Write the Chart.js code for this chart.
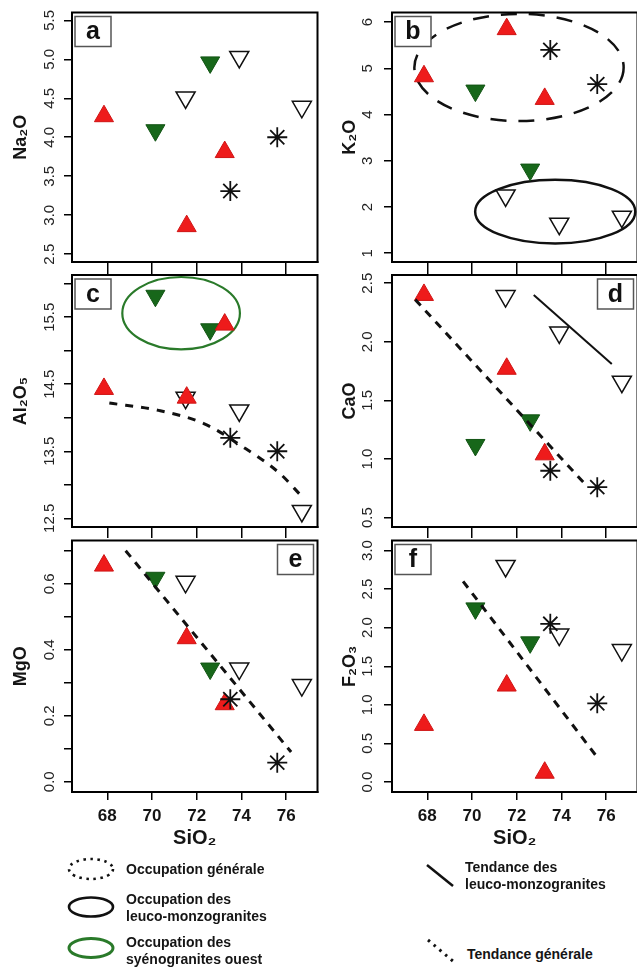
<!DOCTYPE html>
<html>
<head>
<meta charset="utf-8">
<title>Diagrammes de Harker</title>
<script src="https://cdn.jsdelivr.net/npm/chart.js@4"></script>
<style>
    html, body { margin: 0; padding: 0; background: #fff; overflow: hidden; }
    #page { position: relative; width: 637px; height: 969px; overflow: hidden; font-family: "Liberation Sans", Arial, sans-serif; }
    #page canvas { position: absolute; }
    .lg { position: absolute; font-weight: bold; font-size: 14px; line-height: 17px; color: #151515; white-space: nowrap; }
    .ic { position: absolute; }
</style>
</head>
<body>
<div id="page">
    <canvas id="pa" width="330" height="276" style="left:0;top:0"></canvas>
    <canvas id="pb" width="330" height="276" style="left:320px;top:0"></canvas>
    <canvas id="pc" width="330" height="278" style="left:0;top:262px"></canvas>
    <canvas id="pd" width="330" height="278" style="left:320px;top:262px"></canvas>
    <canvas id="pe" width="330" height="322" style="left:0;top:528px"></canvas>
    <canvas id="pf" width="330" height="322" style="left:320px;top:528px"></canvas>

    <svg class="ic" style="left:66px;top:856px" width="50" height="26">
        <ellipse cx="25" cy="13" rx="22" ry="10" fill="none" stroke="#111" stroke-width="2.6" stroke-dasharray="2.5 4.5"/>
    </svg>
    <div class="lg" style="left:126px;top:861px">Occupation générale</div>
    <svg class="ic" style="left:66px;top:895px" width="50" height="26">
        <ellipse cx="25" cy="12" rx="22" ry="9.5" fill="none" stroke="#111" stroke-width="2.6"/>
    </svg>
    <div class="lg" style="left:126px;top:891px">Occupation des<br>leuco-monzogranites</div>
    <svg class="ic" style="left:66px;top:936px" width="50" height="26">
        <ellipse cx="25" cy="12" rx="22" ry="9.5" fill="none" stroke="#2a7a2a" stroke-width="3"/>
    </svg>
    <div class="lg" style="left:126px;top:934px">Occupation des<br>syénogranites ouest</div>

    <svg class="ic" style="left:420px;top:858px" width="40" height="34">
        <line x1="7" y1="7" x2="33" y2="28" stroke="#111" stroke-width="2.5"/>
    </svg>
    <div class="lg" style="left:465px;top:859px">Tendance des<br>leuco-monzogranites</div>
    <svg class="ic" style="left:420px;top:934px" width="40" height="34">
        <line x1="8" y1="6" x2="34" y2="28" stroke="#111" stroke-width="3" stroke-dasharray="2.5 5"/>
    </svg>
    <div class="lg" style="left:467px;top:946px">Tendance générale</div>
</div>

<script>
// SiO2 of each group (same samples in every panel)
const xTicks = [68, 70, 72, 74, 76];
const siRed = [67.85, 71.55, 73.25];
const siGreen = [70.15, 72.6];
const siOpen = [71.5, 73.9, 76.7];
const siStar = [73.5, 75.6];

// a - Na2O
const na2oRed = [4.27, 2.86, 3.81];
const na2oGreen = [4.09, 4.96];
const na2oOpen = [4.51, 5.03, 4.39];
const na2oStar = [3.31, 4.0];
const na2oTicks = [2.5, 3, 3.5, 4, 4.5, 5, 5.5];

// b - K2O
const k2oRed = [4.83, 5.85, 4.34];
const k2oGreen = [4.52, 2.81];
const k2oOpen = [2.25, 1.64, 1.79];
const k2oStar = [5.4, 4.66];
const k2oTicks = [1, 2, 3, 4, 5, 6];
// ellipses: [centre SiO2, centre value, half width, half height]
const k2oGeneral = [72.1, 5.02, 4.68, 1.16];
const k2oLeuco = [73.72, 1.9, 3.58, 0.69];

// c - Al2O5
const al2o5Red = [14.43, 14.3, 15.39];
const al2o5Green = [15.82, 15.32];
const al2o5Open = [14.3, 14.11, 12.61];
const al2o5Star = [13.7, 13.5];
const al2o5Ticks = [12.5, 13, 13.5, 14, 14.5, 15, 15.5, 16];
const al2o5Labels = [12.5, 13.5, 14.5, 15.5];
const al2o5Syeno = [71.3, 15.56, 2.63, 0.54];
const al2o5TrendX = [68.09, 70.29, 72.34, 73.95, 75.71, 76.66];
const al2o5TrendY = [14.22, 14.11, 13.91, 13.59, 13.17, 12.84];

// d - CaO
const caoRed = [2.4, 1.77, 1.04];
const caoGreen = [1.12, 1.33];
const caoOpen = [2.39, 2.08, 1.66];
const caoStar = [0.9, 0.76];
const caoTicks = [0.5, 1, 1.5, 2, 2.5];
const caoTrendX = [67.46, 75.13];
const caoTrendY = [2.36, 0.77];
const caoLeucoX = [72.76, 76.25];
const caoLeucoY = [2.4, 1.81];

// e - MgO
const mgoRed = [0.655, 0.435, 0.235];
const mgoGreen = [0.618, 0.343];
const mgoOpen = [0.606, 0.343, 0.293];
const mgoStar = [0.25, 0.058];
const mgoTicks = [0, 0.1, 0.2, 0.3, 0.4, 0.5, 0.6, 0.7];
const mgoLabels = [0, 0.2, 0.4, 0.6];
const mgoTrendX = [68.82, 76.22];
const mgoTrendY = [0.7, 0.09];

// f - F2O3
const f2o3Red = [0.74, 1.25, 0.12];
const f2o3Green = [2.25, 1.81];
const f2o3Open = [2.8, 1.91, 1.71];
const f2o3Star = [2.05, 1.02];
const f2o3Ticks = [0, 0.5, 1, 1.5, 2, 2.5, 3];
const f2o3TrendX = [69.6, 75.6];
const f2o3TrendY = [2.6, 0.32];

const FONT = '"Liberation Sans", Arial, sans-serif';
Chart.defaults.font.family = FONT;

const measure = document.createElement('canvas').getContext('2d');
measure.font = '15px ' + FONT;

const rows = {
    1: { pt: 11, xh: 14, tl: 12, bottom: false },
    2: { pt: 13, xh: 13, tl: 11, bottom: false },
    3: { pt: 10, xh: 58, tl: 8, bottom: true }
};

const pts = (xs, ys) => xs.map((x, i) => ({ x: x, y: ys[i] }));

// no extra room for labels hanging past the plot ends, the page grid is fixed
const noOverhang = s => { s.paddingTop = 0; s.paddingBottom = 0; s.paddingLeft = 0; s.paddingRight = 0; };

const frame = {
    id: 'frame',
    beforeDatasetsDraw(chart, args, opts) {
        const { ctx, chartArea: a } = chart;
        const xs = chart.scales.x, ys = chart.scales.y;
        ctx.save();
        ctx.beginPath();
        ctx.rect(a.left, a.top, a.right - a.left, a.bottom - a.top);
        ctx.clip();
        (opts.ellipses || []).forEach(e => {
            const [cx, cy, rx, ry] = e.spec;
            const px = xs.getPixelForValue(cx), py = ys.getPixelForValue(cy);
            const prx = Math.abs(xs.getPixelForValue(cx + rx) - px);
            const pry = Math.abs(ys.getPixelForValue(cy + ry) - py);
            ctx.beginPath();
            ctx.ellipse(px, py, prx, pry, 0, 0, 2 * Math.PI);
            ctx.setLineDash(e.dash || []);
            ctx.lineWidth = e.width;
            ctx.strokeStyle = e.color;
            ctx.stroke();
        });
        ctx.restore();
    },
    afterDraw(chart, args, opts) {
        const { ctx, chartArea: a } = chart;
        ctx.save();
        ctx.strokeStyle = '#000';
        ctx.lineWidth = 2;
        ctx.strokeRect(a.left, a.top, a.right - a.left, a.bottom - a.top);
        const w = 36, h = 30;
        const x = opts.side === 'right' ? a.right - 4 - w : a.left + 3;
        const y = a.top + 4;
        ctx.fillStyle = '#fff';
        ctx.fillRect(x, y, w, h);
        ctx.strokeStyle = '#555';
        ctx.lineWidth = 1.5;
        ctx.strokeRect(x, y, w, h);
        ctx.fillStyle = '#111';
        ctx.font = 'bold 25px ' + FONT;
        ctx.textAlign = 'center';
        ctx.textBaseline = 'middle';
        ctx.fillText(opts.tag, x + w / 2, y + h / 2 + 1);
        ctx.restore();
    }
};

function panel(id, cfg) {
    const row = rows[cfg.row];
    const right = cfg.col === 'right';
    const labelled = cfg.labels || cfg.ticks;
    const fmt = v => labelled.includes(v) ? v.toFixed(cfg.dec) : '';
    let widest = 0;
    cfg.ticks.forEach(v => { widest = Math.max(widest, measure.measureText(fmt(v)).width); });
    const tickPad = Math.max(0, (right ? 16 : 14) - widest / 2);

    const datasets = [];
    (cfg.lines || []).forEach(l => {
        datasets.push({
            data: pts(l.x, l.y), showLine: true, borderColor: '#111', borderWidth: l.width,
            borderDash: l.dash || [], pointRadius: 0, tension: l.tension || 0,
            cubicInterpolationMode: l.tension ? 'monotone' : 'default', order: 0
        });
    });
    datasets.push({
        data: pts(siStar, cfg.star), pointStyle: 'star', pointRadius: 10,
        pointBorderColor: '#111', pointBorderWidth: 1.8, order: 1
    });
    datasets.push({
        data: pts(siRed, cfg.red), pointStyle: 'triangle', pointRadius: 11,
        pointBackgroundColor: '#ee1b1b', pointBorderColor: '#cf1414', pointBorderWidth: 1, order: 2
    });
    datasets.push({
        data: pts(siGreen, cfg.green), pointStyle: 'triangle', pointRotation: 180, pointRadius: 11,
        pointBackgroundColor: '#17671a', pointBorderColor: '#125414', pointBorderWidth: 1, order: 3
    });
    datasets.push({
        data: pts(siOpen, cfg.open), pointStyle: 'triangle', pointRotation: 180, pointRadius: 11,
        pointBackgroundColor: '#fff', pointBorderColor: '#111', pointBorderWidth: 1.5, order: 4
    });

    new Chart(document.getElementById(id), {
        type: 'scatter',
        data: { datasets: datasets },
        plugins: [frame],
        options: {
            responsive: false,
            animation: false,
            layout: { padding: { top: row.pt, right: 8, bottom: 0, left: 0 } },
            plugins: {
                legend: { display: false },
                tooltip: { enabled: false },
                frame: { tag: cfg.tag, side: cfg.side, ellipses: cfg.ellipses }
            },
            scales: {
                x: {
                    type: 'linear', min: 66.42, max: 77.4,
                    afterBuildTicks: s => { s.ticks = xTicks.map(v => ({ value: v })); },
                    afterFit: s => { s.height = row.xh; noOverhang(s); },
                    grid: { drawOnChartArea: false, drawTicks: true, tickLength: row.tl, color: '#000', lineWidth: 1.5 },
                    border: { display: true, color: '#000', width: 2 },
                    ticks: {
                        display: row.bottom, color: '#151515', padding: 6, maxRotation: 0, autoSkip: false,
                        font: { size: 17, weight: 'bold' }
                    },
                    title: {
                        display: row.bottom, text: 'SiO₂', color: '#151515', padding: 0,
                        font: { size: 20, weight: 'bold' }
                    }
                },
                y: {
                    type: 'linear', min: cfg.min, max: cfg.max,
                    afterBuildTicks: s => { s.ticks = cfg.ticks.map(v => ({ value: v })); },
                    afterFit: s => { s.width = 72; noOverhang(s); },
                    grid: { drawOnChartArea: false, drawTicks: true, tickLength: 8, color: '#000', lineWidth: 1.5 },
                    border: { display: true, color: '#000', width: 2 },
                    ticks: {
                        color: '#222', minRotation: 90, maxRotation: 90, crossAlign: 'center',
                        padding: tickPad, autoSkip: false, font: { size: 15 },
                        callback: v => fmt(v)
                    },
                    title: {
                        display: true, text: cfg.title, color: '#151515',
                        padding: { top: right ? 19 : 10, bottom: 0 },
                        font: { size: 18, weight: 'bold' }
                    }
                }
            }
        }
    });
}

panel('pa', {
    row: 1, col: 'left', tag: 'a', side: 'left', title: 'Na₂O',
    min: 2.4, max: 5.6, ticks: na2oTicks, dec: 1,
    red: na2oRed, green: na2oGreen, open: na2oOpen, star: na2oStar
});

panel('pb', {
    row: 1, col: 'right', tag: 'b', side: 'left', title: 'K₂O',
    min: 0.81, max: 6.21, ticks: k2oTicks, dec: 0,
    red: k2oRed, green: k2oGreen, open: k2oOpen, star: k2oStar,
    ellipses: [
        { spec: k2oGeneral, color: '#111', width: 2.5, dash: [16, 12] },
        { spec: k2oLeuco, color: '#111', width: 2.5 }
    ]
});

panel('pc', {
    row: 2, col: 'left', tag: 'c', side: 'left', title: 'Al₂O₅',
    min: 12.37, max: 16.13, ticks: al2o5Ticks, labels: al2o5Labels, dec: 1,
    red: al2o5Red, green: al2o5Green, open: al2o5Open, star: al2o5Star,
    ellipses: [{ spec: al2o5Syeno, color: '#2a7a2a', width: 2.2 }],
    lines: [{ x: al2o5TrendX, y: al2o5TrendY, width: 3, dash: [8, 8], tension: 0.4 }]
});

panel('pd', {
    row: 2, col: 'right', tag: 'd', side: 'right', title: 'CaO',
    min: 0.42, max: 2.57, ticks: caoTicks, dec: 1,
    red: caoRed, green: caoGreen, open: caoOpen, star: caoStar,
    lines: [
        { x: caoTrendX, y: caoTrendY, width: 3, dash: [8, 7] },
        { x: caoLeucoX, y: caoLeucoY, width: 2 }
    ]
});

panel('pe', {
    row: 3, col: 'left', tag: 'e', side: 'right', title: 'MgO',
    min: -0.031, max: 0.731, ticks: mgoTicks, labels: mgoLabels, dec: 1,
    red: mgoRed, green: mgoGreen, open: mgoOpen, star: mgoStar,
    lines: [{ x: mgoTrendX, y: mgoTrendY, width: 3, dash: [8, 7] }]
});

panel('pf', {
    row: 3, col: 'right', tag: 'f', side: 'left', title: 'F₂O₃',
    min: -0.13, max: 3.13, ticks: f2o3Ticks, dec: 1,
    red: f2o3Red, green: f2o3Green, open: f2o3Open, star: f2o3Star,
    lines: [{ x: f2o3TrendX, y: f2o3TrendY, width: 3, dash: [8, 7] }]
});
</script>
</body>
</html>
